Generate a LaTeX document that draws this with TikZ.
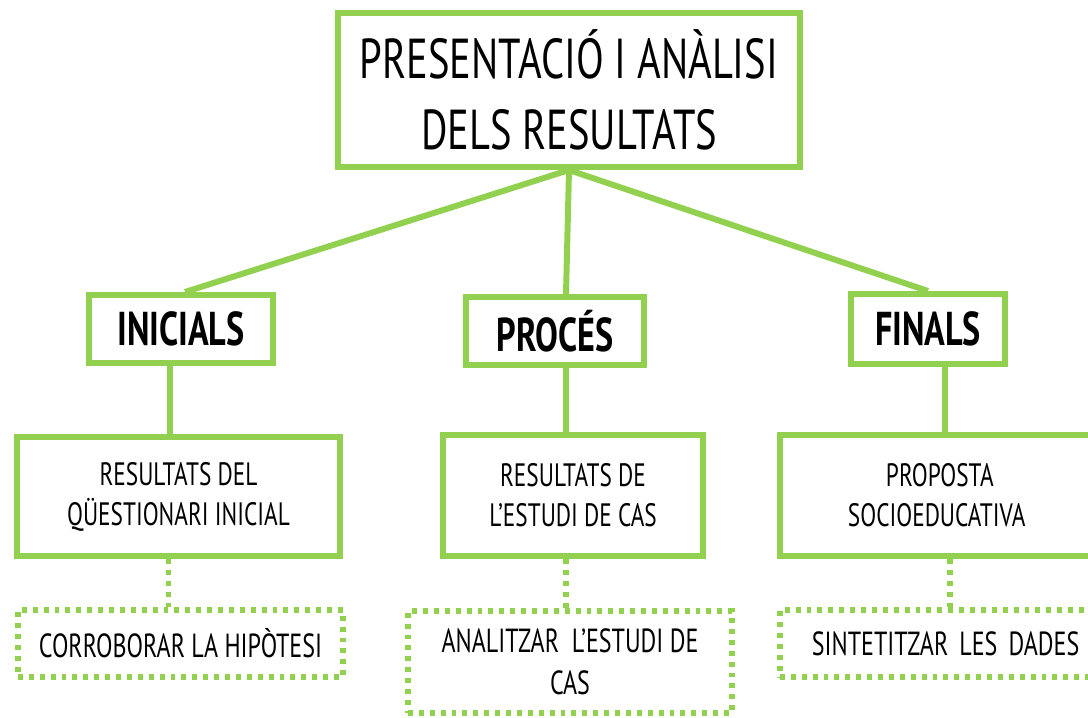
\documentclass[tikz,border=0pt]{standalone}
\usepackage{fontspec}
\setmainfont[FakeStretch=0.72]{PT Sans}
\usetikzlibrary{positioning}
\definecolor{fulla}{RGB}{146,208,80}

\begin{document}
\begin{tikzpicture}[x=0.01cm,y=-0.01cm,
    caixa/.style={draw=fulla, line width=1.7pt, align=center, inner sep=0pt},
    puntejat/.style={draw=fulla, line width=1.5pt, dash pattern=on 1.4pt off 1.7pt, align=center, inner sep=0pt},
    enllac/.style={fulla, line width=1.7pt},
    enllacpunt/.style={fulla, line width=1.5pt, dash pattern=on 1.4pt off 1.7pt}]
    \useasboundingbox (0,0) rectangle (1088,717);
    \clip (0,0) rectangle (1088,717);

    % titol
    \node[caixa, minimum width=4.62cm, minimum height=1.54cm, font=\fontsize{16}{20}\selectfont] (titol) at (569,90) {PRESENTACIÓ I ANÀLISI\\DELS RESULTATS};

    % fases
    \node[caixa, minimum width=1.83cm, minimum height=0.68cm, font=\fontsize{13.5}{16}\selectfont\bfseries] (inicials) at (181,329) {INICIALS};
    \node[caixa, minimum width=1.78cm, minimum height=0.68cm, font=\fontsize{13.5}{16}\selectfont\bfseries] (proces) at (555,331) {PROCÉS};
    \node[caixa, minimum width=1.53cm, minimum height=0.70cm, font=\fontsize{13.5}{16}\selectfont\bfseries] (finals) at (928,329) {FINALS};

    % resultats
    \node[caixa, minimum width=3.23cm, minimum height=1.19cm, font=\fontsize{9.2}{11.4}\selectfont] (res1) at (178.5,496.5) {RESULTATS DEL\\QÜESTIONARI INICIAL};
    \node[caixa, minimum width=2.60cm, minimum height=1.21cm, font=\fontsize{9.2}{11.4}\selectfont] (res2) at (573,495.5) {RESULTATS DE\\L'ESTUDI DE CAS};
    \node[caixa, minimum width=3.20cm, minimum height=1.21cm, font=\fontsize{9.2}{11.4}\selectfont, text width=3.0cm, align=left] (res3) at (940,495.5) {\hspace*{0.96cm}PROPOSTA\\\hspace*{0.58cm}SOCIOEDUCATIVA};

    % objectius
    \node[puntejat, minimum width=3.25cm, minimum height=0.67cm, font=\fontsize{9.5}{12}\selectfont] (obj1) at (180.5,643.5) {CORROBORAR LA HIPÒTESI};
    \node[puntejat, minimum width=3.24cm, minimum height=1.02cm, font=\fontsize{9.5}{12}\selectfont] (obj2) at (570,662) {ANALITZAR \ L'ESTUDI DE\\CAS};
    \node[puntejat, minimum width=3.20cm, minimum height=0.67cm, font=\fontsize{9.5}{12}\selectfont, text width=3.0cm, align=left] (obj3) at (940,643.5) {\hspace*{0.22cm}\mbox{SINTETITZAR LES DADES}};

    % connexions
    \draw[enllac] (titol.south) -- ([xshift=0.04cm]inicials.north);
    \draw[enllac] (titol.south) -- ([xshift=0.11cm]proces.north);
    \draw[enllac] (titol.south) -- (finals.north);
    \draw[enllac] ([xshift=-0.11cm]inicials.south) -- ([xshift=-0.11cm]inicials.south |- res1.north);
    \draw[enllac] ([xshift=0.11cm]proces.south) -- ([xshift=0.11cm]proces.south |- res2.north);
    \draw[enllac] ([xshift=0.17cm]finals.south) -- ([xshift=0.17cm]finals.south |- res3.north);
    \draw[enllacpunt] ([xshift=-0.10cm]res1.south) -- ([xshift=-0.10cm]res1.south |- obj1.north);
    \draw[enllacpunt] ([xshift=-0.07cm]res2.south) -- ([xshift=-0.07cm]res2.south |- obj2.north);
    \draw[enllacpunt] ([xshift=0.10cm]res3.south) -- ([xshift=0.10cm]res3.south |- obj3.north);
\end{tikzpicture}
\end{document}
